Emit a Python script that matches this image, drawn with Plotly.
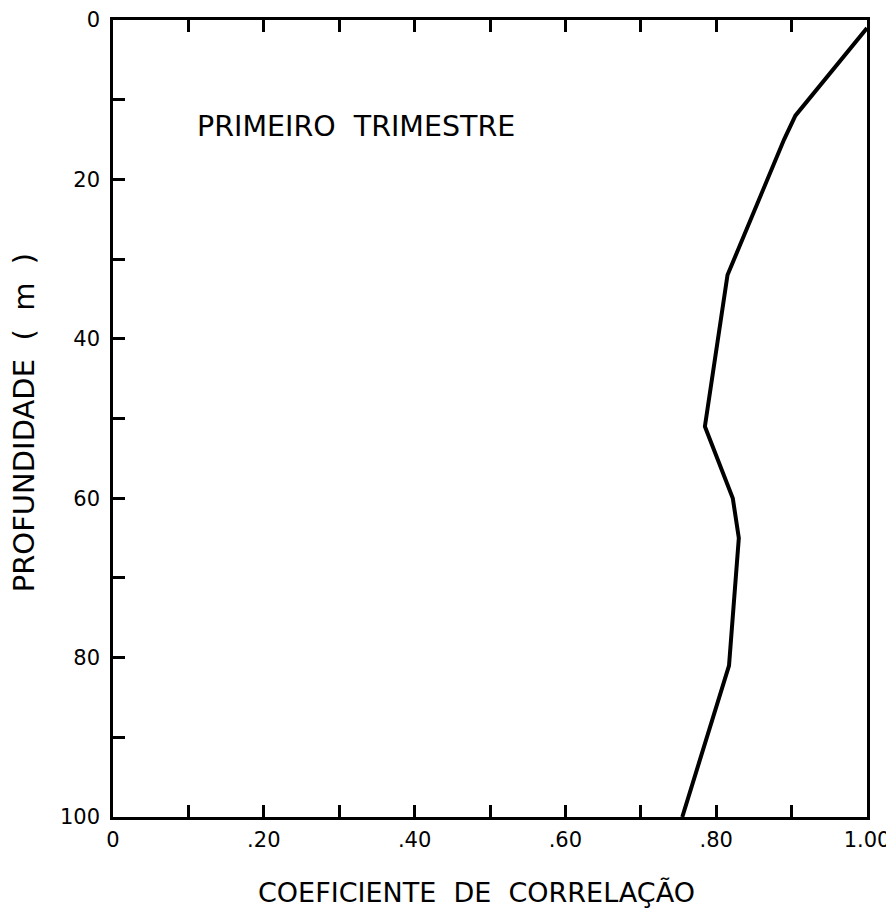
import plotly.graph_objects as go

# Data
coef = [1.00, 0.905, 0.89, 0.815, 0.785, 0.822, 0.830, 0.817, 0.755]
depth = [1, 12, 15, 32, 51, 60, 65, 81, 100]

x_tickvals = [0, 0.1, 0.2, 0.3, 0.4, 0.5, 0.6, 0.7, 0.8, 0.9, 1.0]
x_ticktext = ["0", "", ".20", "", ".40", "", ".60", "", ".80", "", "1.00"]
y_tickvals = [0, 10, 20, 30, 40, 50, 60, 70, 80, 90, 100]
y_ticktext = ["0", "", "20", "", "40", "", "60", "", "80", "", "100"]

FONT = "DejaVu Sans"

fig = go.Figure()
fig.add_trace(go.Scatter(x=coef, y=depth, mode="lines",
                         line=dict(color="black", width=4),
                         showlegend=False, hoverinfo="skip"))

# page body has an 8px margin, so the figure is sized to fit the 894x910 window
fig.update_layout(
    width=886, height=902,
    margin=dict(l=105, r=27, t=12, b=93),
    paper_bgcolor="white", plot_bgcolor="white",
    font=dict(family=FONT, color="black", size=21),
    annotations=[
        dict(text="PRIMEIRO  TRIMESTRE", x=0.109, y=13.4, xref="x", yref="y",
             xanchor="left", yanchor="middle", showarrow=False,
             font=dict(family=FONT, size=28.5, color="black")),
        dict(text="COEFICIENTE  DE  CORRELAÇÃO", x=0.482, y=-0.095, xref="paper", yref="paper",
             xanchor="center", yanchor="middle", showarrow=False,
             font=dict(family=FONT, size=27, color="black")),
        dict(text="PROFUNDIDADE  (  m  )", x=-0.118, y=0.494, xref="paper", yref="paper",
             xanchor="center", yanchor="middle", showarrow=False, textangle=-90,
             font=dict(family=FONT, size=29, color="black")),
    ],
)

fig.update_xaxes(range=[0, 1.0], tickvals=x_tickvals, ticktext=x_ticktext,
                 ticks="inside", ticklen=12, tickwidth=2.5, tickcolor="black",
                 showline=True, linewidth=2.5, linecolor="black", mirror="ticks",
                 showgrid=False, zeroline=False, ticklabelstandoff=2, automargin=False)
fig.update_yaxes(range=[100, 0], tickvals=y_tickvals, ticktext=y_ticktext,
                 ticks="inside", ticklen=12, tickwidth=2.5, tickcolor="black",
                 showline=True, linewidth=2.5, linecolor="black", mirror=True,
                 showgrid=False, zeroline=False, ticklabelstandoff=6, automargin=False)

fig.write_html("out.html")
